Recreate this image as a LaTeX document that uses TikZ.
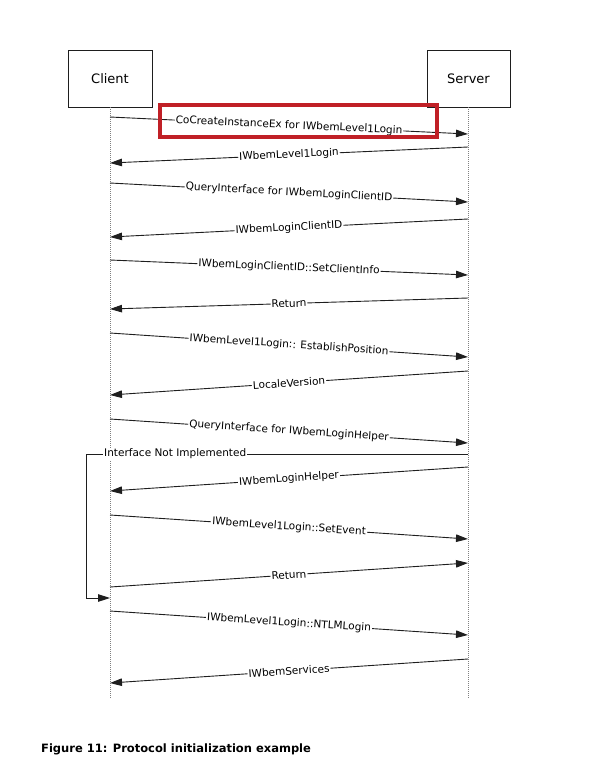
\documentclass[tikz,border=0pt]{standalone}
\usepackage{fontspec}
\setmainfont{DejaVu Sans}
\usetikzlibrary{arrows.meta}
\definecolor{hl}{RGB}{192,32,38}
\definecolor{ln}{RGB}{30,30,30}
\begin{document}
\begin{tikzpicture}[x=1pt,y=-1pt,
  actor/.style={draw=ln, line width=0.6pt, minimum width=84pt, minimum height=57pt, font=\fontsize{13}{15}\selectfont, inner sep=0pt},
  life/.style={draw=gray, line width=0.6pt, dash pattern=on 1pt off 1pt},
  msg/.style={draw=ln, line width=0.9pt, -{Triangle[length=12pt,width=7.5pt]}},
  lbl/.style={fill=white, inner sep=1pt, font=\fontsize{10.5}{12}\selectfont},
]
\useasboundingbox (0,0) rectangle (614,769);
\node[actor] (client) at (110,78.5) {Client};
\node[actor, minimum width=83pt] (server) at (468.5,78.5) {Server};
\coordinate (cend) at (110,698);
\coordinate (send) at (468,698);
\draw[life] (client.south) -- (cend);
\draw[life] (server.south -| send) -- (send);

% lifeline points
\coordinate (c1) at (110,117); \coordinate (s1) at (468,134);
\coordinate (s2) at (468,147); \coordinate (c2) at (110,163);
\coordinate (c3) at (110,183); \coordinate (s3) at (468,202);
\coordinate (s4) at (468,219); \coordinate (c4) at (110,237);
\coordinate (c5) at (110,260); \coordinate (s5) at (468,275);
\coordinate (s6) at (468,298); \coordinate (c6) at (110,309);
\coordinate (c7) at (110,333); \coordinate (s7) at (468,357);
\coordinate (s8) at (468,371); \coordinate (c8) at (110,395);
\coordinate (c9) at (110,419); \coordinate (s9) at (468,443);
\coordinate (sI) at (468,454); \coordinate (lc) at (86,454); \coordinate (cI) at (110,598);
\coordinate (s11) at (468,467); \coordinate (c11) at (110,491);
\coordinate (c12) at (110,515); \coordinate (s12) at (468,539);
\coordinate (c13) at (110,587); \coordinate (s13) at (468,563);
\coordinate (c14) at (110,611); \coordinate (s14) at (468,635);
\coordinate (s15) at (468,659); \coordinate (c15) at (110,683);

\draw[msg] (c1) -- node[lbl, sloped] {CoCreateInstanceEx for IWbemLevel1Login} (s1);
\draw[msg] (s2) -- node[lbl, sloped] {IWbemLevel1Login} (c2);
\draw[msg] (c3) -- node[lbl, sloped] {QueryInterface for IWbemLoginClientID} (s3);
\draw[msg] (s4) -- node[lbl, sloped] {IWbemLoginClientID} (c4);
\draw[msg] (c5) -- node[lbl, sloped] {IWbemLoginClientID::SetClientInfo} (s5);
\draw[msg] (s6) -- node[lbl, sloped] {Return} (c6);
\draw[msg] (c7) -- node[lbl, sloped] {IWbemLevel1Login:: EstablishPosition\ } (s7);
\draw[msg] (s8) -- node[lbl, sloped] {LocaleVersion\ } (c8);
\draw[msg] (c9) -- node[lbl, sloped] {QueryInterface for IWbemLoginHelper} (s9);
\draw[msg] (sI) -- (lc) |- (cI);
\node[lbl, anchor=west] (inl) at (103,454) {Interface Not Implemented};
\draw[msg] (s11) -- node[lbl, sloped] {IWbemLoginHelper} (c11);
\draw[msg] (c12) -- node[lbl, sloped] {IWbemLevel1Login::SetEvent} (s12);
\draw[msg] (c13) -- node[lbl, sloped] {Return} (s13);
\draw[msg] (c14) -- node[lbl, sloped] {IWbemLevel1Login::NTLMLogin} (s14);
\draw[msg] (s15) -- node[lbl, sloped] {IWbemServices} (c15);

\draw[hl, line width=4.3pt] (160,105) rectangle (437,137);

\node[anchor=base west, inner sep=0pt, font=\bfseries\fontsize{11.5}{13}\selectfont] (cap) at (41,752) {Figure 11: Protocol initialization example};
\end{tikzpicture}
\end{document}
